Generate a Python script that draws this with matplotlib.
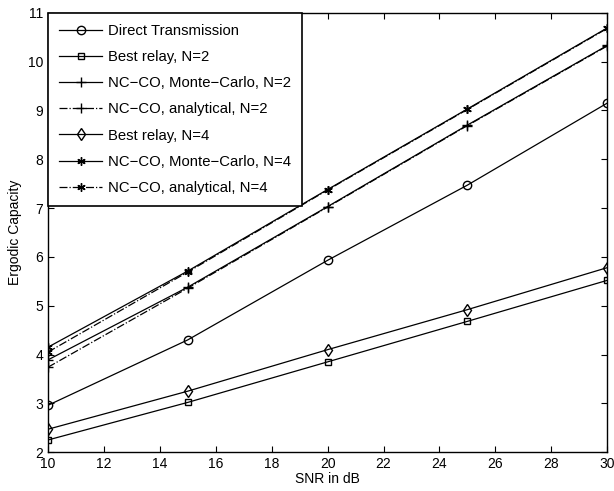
import matplotlib
matplotlib.use("Agg")
import matplotlib.pyplot as plt

plt.rcParams['font.family'] = ['Liberation Sans', 'DejaVu Sans']

snr = [10, 15, 20, 25, 30]
direct = [2.96, 4.30, 5.93, 7.47, 9.15]
best_n2 = [2.25, 3.02, 3.85, 4.68, 5.52]
nc_mc_n2 = [3.89, 5.38, 7.03, 8.70, 10.33]
nc_an_n2 = [3.74, 5.36, 7.02, 8.69, 10.32]
best_n4 = [2.47, 3.25, 4.10, 4.92, 5.78]
nc_mc_n4 = [4.15, 5.71, 7.38, 9.03, 10.69]
nc_an_n4 = [4.05, 5.69, 7.37, 9.02, 10.68]

fig = plt.figure(figsize=(6.14, 4.91), dpi=100)
ax = fig.add_axes([0.078, 0.079, 0.911, 0.895])

kw = dict(color='black', lw=0.9, markerfacecolor='none', markeredgecolor='black')
ax.plot(snr, direct, '-', marker='o', ms=6, label='Direct Transmission', **kw)
ax.plot(snr, best_n2, '-', marker='s', ms=5, label='Best relay, N=2', **kw)
ax.plot(snr, nc_mc_n2, '-', marker='+', ms=7, label='NC\u2212CO, Monte\u2212Carlo, N=2', **kw)
ax.plot(snr, nc_an_n2, '-.', marker='+', ms=7, label='NC\u2212CO, analytical, N=2', **kw)
ax.plot(snr, best_n4, '-', marker='d', ms=6, label='Best relay, N=4', **kw)
ax.plot(snr, nc_mc_n4, '-', marker=(6, 2, 0), ms=6, label='NC\u2212CO, Monte\u2212Carlo, N=4', **kw)
ax.plot(snr, nc_an_n4, '-.', marker=(6, 2, 0), ms=6, label='NC\u2212CO, analytical, N=4', **kw)

ax.set_xlim(10, 30)
ax.set_ylim(2, 11)
ax.set_xticks(range(10, 31, 2))
ax.set_yticks(range(2, 12))
ax.tick_params(direction='in', top=True, right=True, labelsize=10, length=4, width=0.8)
for s in ax.spines.values():
    s.set_linewidth(1.0)
ax.set_xlabel('SNR in dB', fontsize=10, labelpad=1)
ax.set_ylabel('Ergodic Capacity', fontsize=10, labelpad=4)

leg = ax.legend(loc='upper left', fontsize=10.7, handlelength=2.9, labelspacing=0.82,
                borderaxespad=0.0, fancybox=False, edgecolor='black', framealpha=1,
                handletextpad=0.4, borderpad=0.75)
leg.get_frame().set_linewidth(1.2)

fig.savefig('out.png', dpi=100)
